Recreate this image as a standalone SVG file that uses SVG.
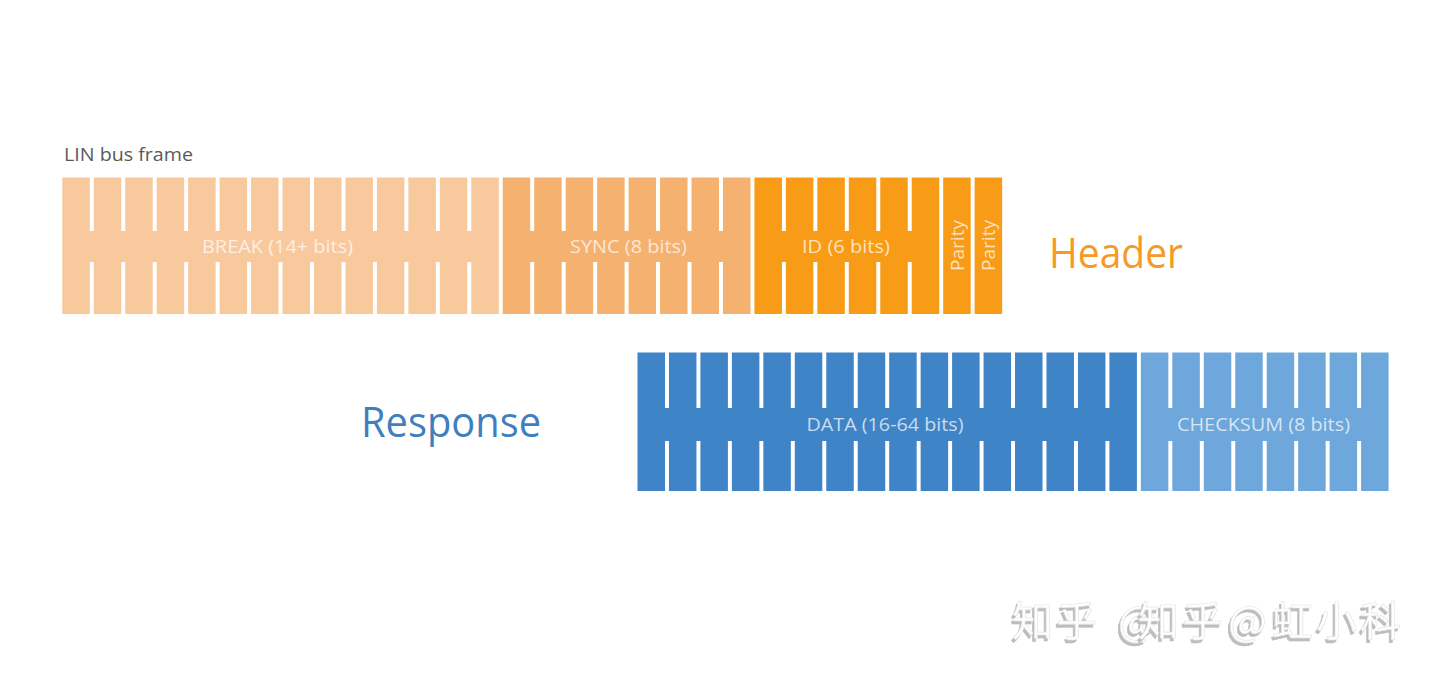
<svg xmlns="http://www.w3.org/2000/svg" xmlns:xlink="http://www.w3.org/1999/xlink" width="1440" height="683" viewBox="0 0 1440 683">
  <style>
    .lbl { font-family: "Open Sans", "Liberation Sans", sans-serif; font-size: 19px; fill: #ffffff; fill-opacity: 0.72; text-anchor: middle; }
    .title { font-family: "Open Sans", "Liberation Sans", sans-serif; font-size: 19px; fill: #5a5a5a; }
    .big { font-family: "Open Sans", "Liberation Sans", sans-serif; font-size: 42px; }
    .wm { font-family: "Noto Sans CJK SC", "Noto Sans", sans-serif; font-size: 41px; letter-spacing: 3px; fill: #ffffff; stroke: #e2e2e2; stroke-width: 0.6; filter: url(#emboss); }
    .slit { fill: #ffffff; }
  </style>
  <defs>
    <filter id="emboss" x="-5%" y="-30%" width="110%" height="160%">
      <feOffset in="SourceAlpha" dx="-2" dy="3" result="off"/>
      <feFlood flood-color="#bdbdbd"/>
      <feComposite in2="off" operator="in" result="shadow"/>
      <feMerge>
        <feMergeNode in="shadow"/>
        <feMergeNode in="SourceGraphic"/>
      </feMerge>
    </filter>
    <g id="slitTop">
      <rect class="slit" x="0" y="176" width="3.96" height="55"/>
      <rect class="slit" x="0" y="262" width="3.96" height="54"/>
    </g>
    <g id="slitBot">
      <rect class="slit" x="0" y="351" width="3.96" height="57"/>
      <rect class="slit" x="0" y="441" width="3.96" height="52"/>
    </g>
  </defs>
  <rect width="1440" height="683" fill="#ffffff"/>

  <text class="title" x="64" y="161" textLength="129" lengthAdjust="spacingAndGlyphs">LIN bus frame</text>

  <g id="break">
    <rect x="62.3" y="177.5" width="436.5" height="136.5" fill="#F8C99D"/>
    <use xlink:href="#slitTop" x="89.8"/>
    <use xlink:href="#slitTop" x="121.26"/>
    <use xlink:href="#slitTop" x="152.72"/>
    <use xlink:href="#slitTop" x="184.18"/>
    <use xlink:href="#slitTop" x="215.64"/>
    <use xlink:href="#slitTop" x="247.1"/>
    <use xlink:href="#slitTop" x="278.56"/>
    <use xlink:href="#slitTop" x="310.02"/>
    <use xlink:href="#slitTop" x="341.48"/>
    <use xlink:href="#slitTop" x="372.94"/>
    <use xlink:href="#slitTop" x="404.4"/>
    <use xlink:href="#slitTop" x="435.86"/>
    <use xlink:href="#slitTop" x="467.32"/>
    <text class="lbl" x="277.5" y="253" textLength="151" lengthAdjust="spacingAndGlyphs">BREAK (14+ bits)</text>
  </g>

  <g id="sync">
    <rect x="502.74" y="177.5" width="247.72" height="136.5" fill="#F4B16F"/>
    <use xlink:href="#slitTop" x="530.24"/>
    <use xlink:href="#slitTop" x="561.7"/>
    <use xlink:href="#slitTop" x="593.16"/>
    <use xlink:href="#slitTop" x="624.62"/>
    <use xlink:href="#slitTop" x="656.08"/>
    <use xlink:href="#slitTop" x="687.54"/>
    <use xlink:href="#slitTop" x="719.0"/>
    <text class="lbl" x="628.5" y="253" textLength="117" lengthAdjust="spacingAndGlyphs">SYNC (8 bits)</text>
  </g>

  <g id="id">
    <rect x="754.42" y="177.5" width="184.8" height="136.5" fill="#F89B17"/>
    <use xlink:href="#slitTop" x="781.92"/>
    <use xlink:href="#slitTop" x="813.38"/>
    <use xlink:href="#slitTop" x="844.84"/>
    <use xlink:href="#slitTop" x="876.3"/>
    <use xlink:href="#slitTop" x="907.76"/>
    <text class="lbl" x="846" y="253" textLength="88" lengthAdjust="spacingAndGlyphs">ID (6 bits)</text>
  </g>

  <g id="parity1">
    <rect x="943.18" y="177.5" width="27.5" height="136.5" fill="#F89B17"/>
    <text class="lbl" transform="translate(963.5 245.5) rotate(-90)" x="0" y="0" textLength="51" lengthAdjust="spacingAndGlyphs">Parity</text>
  </g>

  <g id="parity2">
    <rect x="974.64" y="177.5" width="27.5" height="136.5" fill="#F89B17"/>
    <text class="lbl" transform="translate(995 245.5) rotate(-90)" x="0" y="0" textLength="51" lengthAdjust="spacingAndGlyphs">Parity</text>
  </g>

  <text class="big" x="1049" y="268" fill="#F59B25" textLength="134" lengthAdjust="spacingAndGlyphs">Header</text>

  <text class="big" x="361" y="437" fill="#3F7FBE" textLength="180" lengthAdjust="spacingAndGlyphs">Response</text>

  <g id="data">
    <rect x="637.5" y="352.5" width="499.4" height="138.5" fill="#3F84C6"/>
    <use xlink:href="#slitBot" x="665"/>
    <use xlink:href="#slitBot" x="696.46"/>
    <use xlink:href="#slitBot" x="727.92"/>
    <use xlink:href="#slitBot" x="759.38"/>
    <use xlink:href="#slitBot" x="790.84"/>
    <use xlink:href="#slitBot" x="822.3"/>
    <use xlink:href="#slitBot" x="853.76"/>
    <use xlink:href="#slitBot" x="885.22"/>
    <use xlink:href="#slitBot" x="916.68"/>
    <use xlink:href="#slitBot" x="948.14"/>
    <use xlink:href="#slitBot" x="979.6"/>
    <use xlink:href="#slitBot" x="1011.06"/>
    <use xlink:href="#slitBot" x="1042.52"/>
    <use xlink:href="#slitBot" x="1073.98"/>
    <use xlink:href="#slitBot" x="1105.44"/>
    <text class="lbl" x="885" y="431" textLength="157" lengthAdjust="spacingAndGlyphs" fill-opacity="0.85">DATA (16-64 bits)</text>
  </g>

  <g id="checksum">
    <rect x="1140.86" y="352.5" width="247.72" height="138.5" fill="#6DA7DC"/>
    <use xlink:href="#slitBot" x="1168.36"/>
    <use xlink:href="#slitBot" x="1199.82"/>
    <use xlink:href="#slitBot" x="1231.28"/>
    <use xlink:href="#slitBot" x="1262.74"/>
    <use xlink:href="#slitBot" x="1294.2"/>
    <use xlink:href="#slitBot" x="1325.66"/>
    <use xlink:href="#slitBot" x="1357.12"/>
    <text class="lbl" x="1263.5" y="431" textLength="173" lengthAdjust="spacingAndGlyphs" fill-opacity="0.85">CHECKSUM (8 bits)</text>
  </g>

  <g id="connectors"></g>

  <g id="watermark">
    <text class="wm" x="1012" y="636">知乎<tspan x="1118">@</tspan></text>
    <text class="wm" x="1138" y="636">知乎<tspan x="1228">@</tspan><tspan x="1272">虹小科</tspan></text>
  </g>
</svg>
